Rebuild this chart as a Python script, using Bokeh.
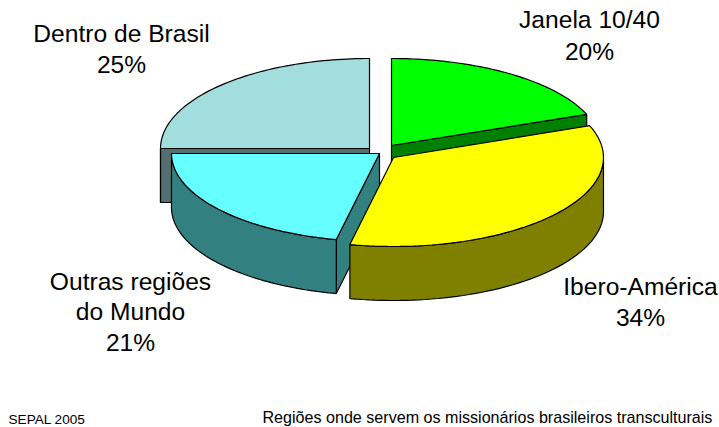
import numpy as np
from bokeh.plotting import figure
from bokeh.models import Range1d
from bokeh.core.properties import value
from bokeh.embed import file_html
from bokeh.resources import INLINE

# Data, clockwise from 12 o'clock
categories = ["Janela 10/40", "Ibero-América", "Outras regiões do Mundo", "Dentro de Brasil"]
shares = [20, 34, 21, 25]
top_colors = ["#00FF00", "#FFFF00", "#66FFFF", "#A3DEDE"]
side_colors = ["#008000", "#808000", "#338080", "#527070"]
# exploded slice apex, in page pixels
apex_x = [391, 393, 379, 369]
apex_y = [145, 157, 153, 148]
# slices' radii (perspective)
radius_x = [209, 210, 208, 209]
radius_y = [87, 89, 88, 90]
depth = 54
draw_order = [3, 0, 2, 1]
perspective = np.radians(-5.0)

W, H = 719, 427
p = figure(width=W, height=H, x_range=Range1d(0, W), y_range=Range1d(H, 0),
           toolbar_location=None, output_backend="svg", min_border=0, outline_line_color=None)
p.xaxis.visible = False
p.yaxis.visible = False
p.grid.visible = False

edges = np.cumsum([0] + shares) / sum(shares) * 2 * np.pi


def pt(i, t):
    t = t + perspective * np.sin(2 * t)
    return apex_x[i] + radius_x[i] * np.sin(t), apex_y[i] - radius_y[i] * np.cos(t)


def draw_patch(xs, ys, color):
    p.patch(list(xs), list(ys), fill_color=color, line_color="black", line_width=1.2)


for i in draw_order:
    a0, a1 = edges[i], edges[i + 1]
    t = np.linspace(a0, a1, 60)
    ax, ay = pt(i, t)
    ox, oy = apex_x[i], apex_y[i]
    # cut faces that turn toward the viewer
    faces = []
    if np.sin(a0) < -1e-6:
        faces.append(a0)
    if np.sin(a1) > 1e-6:
        faces.append(a1)
    for ang in faces:
        ex, ey = pt(i, ang)
        draw_patch([ox, ex, ex, ox], [oy, ey, ey + depth, oy + depth], side_colors[i])
    # outer rim: only the part facing the viewer
    mask = np.cos(t) <= 0.02
    if mask.any():
        rx, ry = ax[mask], ay[mask]
        draw_patch(np.r_[rx, rx[::-1]], np.r_[ry, ry[::-1] + depth], side_colors[i])
    draw_patch(np.r_[ox, ax], np.r_[oy, ay], top_colors[i])

# Labels
label_text = ["Janela 10/40", "20%", "Dentro de Brasil", "25%", "Ibero-América", "34%",
              "Outras regiões", "do Mundo", "21%"]
label_x = [589, 589, 121, 121, 640, 640, 130, 130, 130]
label_y = [19, 51, 33, 64, 286, 317, 281, 311, 342]
p.text(label_x, label_y, text=label_text, text_font=value("Liberation Sans"), text_font_size="24.6px",
       text_align="center", text_baseline="middle", text_color="black")
p.text([8], [419], text=["SEPAL 2005"], text_font=value("Liberation Sans"), text_font_size="13.6px",
       text_align="left", text_baseline="middle", text_color="black")
p.text([262], [416], text=["Regiões onde servem os missionários brasileiros transculturais"],
       text_font=value("Liberation Sans"), text_font_size="16.1px",
       text_align="left", text_baseline="middle", text_color="black")

open("out.html", "w").write(file_html(p, INLINE))
